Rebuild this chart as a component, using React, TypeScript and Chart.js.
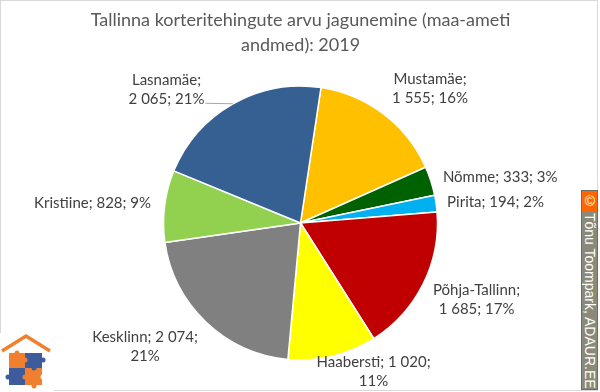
import React, { useEffect, useRef } from "react";
import { Chart, registerables } from "chart.js";
Chart.register(...registerables);

const districts = ["Mustamäe", "Nõmme", "Pirita", "Põhja-Tallinn", "Haabersti", "Kesklinn", "Kristiine", "Lasnamäe"];
const transactions = [1555, 333, 194, 1685, 1020, 2074, 828, 2065];
const sharePct = [16, 3, 2, 17, 11, 21, 9, 21];
const sliceColors = ["#FFC000", "#006100", "#00B0F0", "#C00000", "#FFFF00", "#808080", "#92D050", "#376092"];
const titleLines = ["Tallinna korteritehingute arvu jagunemine (maa-ameti", "andmed): 2019"];

const fmt = (n: number) => String(n).replace(/\B(?=(\d{3})+(?!\d))/g, " ");

// label placement relative to the slice's outer mid point
const labelLayout = [
  { dx: 46.5, dy: -25, align: "center", breakAfter: 1 },
  { dx: 12, dy: -4, align: "left", breakAfter: 3 },
  { dx: 11, dy: -1, align: "left", breakAfter: 3 },
  { dx: 53.5, dy: 15, align: "center", breakAfter: 1 },
  { dx: 41, dy: 15, align: "center", breakAfter: 2 },
  { dx: -61, dy: 24, align: "center", breakAfter: 2 },
  { dx: -13.5, dy: -3, align: "right", breakAfter: 3 },
  { dx: -66.5, dy: -14, align: "center", breakAfter: 1, leader: true },
];

const labelPlugin = {
  id: "sliceLabels",
  afterDatasetsDraw(chart: any) {
    const ctx = chart.ctx;
    const meta = chart.getDatasetMeta(0);
    const data = chart.data.datasets[0].data as number[];
    ctx.save();
    ctx.font = "15px Lato";
    ctx.fillStyle = "#404040";
    ctx.textBaseline = "middle";
    const lh = 19;
    meta.data.forEach((arc: any, i: number) => {
      const { x, y, startAngle, endAngle, outerRadius } = arc.getProps(
        ["x", "y", "startAngle", "endAngle", "outerRadius"],
        true
      );
      const mid = (startAngle + endAngle) / 2;
      const ex = x + Math.cos(mid) * outerRadius;
      const ey = y + Math.sin(mid) * outerRadius;
      const L: any = labelLayout[i];
      const parts = [districts[i] + ";", fmt(data[i]) + ";", sharePct[i] + "%"];
      const lines = [parts.slice(0, L.breakAfter).join(" "), parts.slice(L.breakAfter).join(" ")].filter((s) => s);
      const cx = ex + L.dx;
      const cy = ey + L.dy;
      ctx.textAlign = L.align;
      lines.forEach((ln, k) => ctx.fillText(ln, cx, cy + (k - (lines.length - 1) / 2) * lh));
      if (L.leader) {
        const last = lines[lines.length - 1];
        const w = ctx.measureText(last).width;
        const ly = cy + ((lines.length - 1) / 2) * lh + 4;
        ctx.strokeStyle = "#a6a6a6";
        ctx.lineWidth = 1;
        ctx.beginPath();
        ctx.moveTo(cx + w / 2 + 1, ly);
        ctx.lineTo(ex, ey);
        ctx.stroke();
      }
    });
    ctx.restore();
  },
};

export default function App() {
  const ref = useRef<HTMLCanvasElement>(null);
  useEffect(() => {
    if (!ref.current) return;
    const chart = new Chart(ref.current, {
      type: "pie",
      data: {
        labels: districts,
        datasets: [
          {
            data: transactions,
            backgroundColor: sliceColors,
            borderColor: "#ffffff",
            borderWidth: 1.5,
            hoverOffset: 0,
            offset: 0,
            radius: 137,
          } as any,
        ],
      },
      options: {
        responsive: false,
        animation: false,
        rotation: 8.6,
        layout: { padding: { top: 0, bottom: 32, left: 1, right: 0 } },
        plugins: {
          legend: { display: false },
          tooltip: { enabled: false },
          title: {
            display: true,
            text: titleLines,
            color: "#595959",
            font: { family: "Lato", size: 18, weight: "normal", lineHeight: 25 / 18 },
            padding: { top: 7.5, bottom: 28.5 },
          },
        },
      },
      plugins: [labelPlugin],
    });
    return () => chart.destroy();
  }, []);

  return (
    <div style={{ position: "absolute", left: 0, top: 0, width: 600, height: 392, background: "#fff", overflow: "hidden" }}>
      <div
        style={{
          position: "absolute",
          left: 0,
          top: 0,
          width: 598,
          height: 391,
          border: "1px solid #d9d9d9",
          boxSizing: "border-box",
        }}
      />
      <canvas ref={ref} width={600} height={392} style={{ position: "absolute", left: 0, top: 0 }} />
      <svg width={54} height={60} style={{ position: "absolute", left: 0, top: 332 }}>
        <rect x={0} y={1} width={54} height={59} fill="#fff" />
        <polyline points="2,19 26,4 50,19" fill="none" stroke="#F07F2E" strokeWidth={3.5} />
        <rect x={9} y={21} width={16} height={15} fill="#F08030" />
        <rect x={25} y={21} width={17} height={15} fill="#3E5C9C" />
        <rect x={9} y={36} width={16} height={17} fill="#3E5C9C" />
        <rect x={25} y={36} width={17} height={17} fill="#F08030" />
        <circle cx={17} cy={21} r={2.5} fill="#F08030" />
        <circle cx={43} cy={28} r={2.5} fill="#3E5C9C" />
        <circle cx={25} cy={28} r={2.5} fill="#F08030" />
        <circle cx={8} cy={45} r={2.5} fill="#3E5C9C" />
        <circle cx={34} cy={36} r={2.5} fill="#3E5C9C" />
        <circle cx={25} cy={45} r={2.5} fill="#F08030" />
        <circle cx={43} cy={45} r={2.5} fill="#fff" />
        <circle cx={34} cy={54} r={2.5} fill="#F08030" />
      </svg>
      <div
        style={{
          position: "absolute",
          left: 581,
          top: 190,
          width: 17,
          height: 200,
          background: "#8a8a7a",
          border: "1px solid #6e6e62",
          boxSizing: "border-box",
          overflow: "hidden",
        }}
      >
        <div
          style={{
            height: 20,
            background: "#FF6600",
            color: "#fff",
            fontFamily: "Liberation Sans",
            fontSize: 14,
            lineHeight: "15px",
            textAlign: "center",
            writingMode: "vertical-rl",
          }}
        >
          ©
        </div>
        <div
          style={{
            writingMode: "vertical-rl",
            color: "#fff",
            fontFamily: "Liberation Sans",
            fontSize: 14,
            lineHeight: "15px",
            paddingTop: 2,
            whiteSpace: "nowrap",
          }}
        >
          Tõnu Toompark, ADAUR.EE
        </div>
      </div>
    </div>
  );
}
